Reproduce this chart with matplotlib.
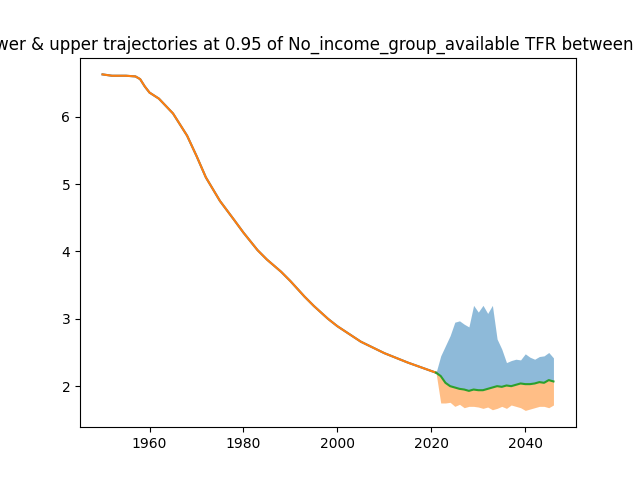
import matplotlib
matplotlib.use("Agg")
import matplotlib.pyplot as plt

hist_years = [1950, 1952, 1955, 1957, 1958, 1959, 1960, 1962, 1965, 1968, 1970, 1972, 1975,
              1978, 1980, 1983, 1985, 1988, 1990, 1993, 1995, 1998, 2000, 2005, 2010, 2015, 2021]
hist_tfr = [6.63, 6.61, 6.61, 6.60, 6.56, 6.45, 6.36, 6.27, 6.05, 5.72, 5.42, 5.10, 4.75,
            4.47, 4.28, 4.02, 3.88, 3.70, 3.56, 3.33, 3.19, 3.00, 2.89, 2.66, 2.49, 2.35, 2.20]

proj_years = list(range(2021, 2047))
median = [2.20, 2.15, 2.05, 2.00, 1.98, 1.96, 1.95, 1.93, 1.95, 1.94, 1.94, 1.96, 1.98,
          2.00, 1.99, 2.01, 2.00, 2.02, 2.04, 2.03, 2.03, 2.04, 2.06, 2.05, 2.09, 2.07]
upper = [2.20, 2.45, 2.60, 2.75, 2.95, 2.97, 2.92, 2.88, 3.20, 3.10, 3.20, 3.08, 3.20,
         2.70, 2.55, 2.35, 2.38, 2.40, 2.39, 2.48, 2.43, 2.40, 2.44, 2.45, 2.50, 2.42]
lower = [2.20, 1.75, 1.75, 1.76, 1.70, 1.73, 1.68, 1.70, 1.70, 1.69, 1.67, 1.69, 1.65,
         1.67, 1.70, 1.67, 1.72, 1.70, 1.68, 1.64, 1.66, 1.68, 1.70, 1.70, 1.68, 1.72]

fig, ax = plt.subplots(figsize=(6.4, 4.8), dpi=100)
ax.plot(hist_years, hist_tfr, color="C0")
ax.plot(hist_years, hist_tfr, color="C1")
ax.fill_between(proj_years, median, upper, color="C0", alpha=0.5, linewidth=0)
ax.fill_between(proj_years, lower, median, color="C1", alpha=0.5, linewidth=0)
ax.plot(proj_years, median, color="C2")
ax.set_title("Lower & upper trajectories at 0.95 of No_income_group_available TFR between 1950")
fig.savefig("out.png")
